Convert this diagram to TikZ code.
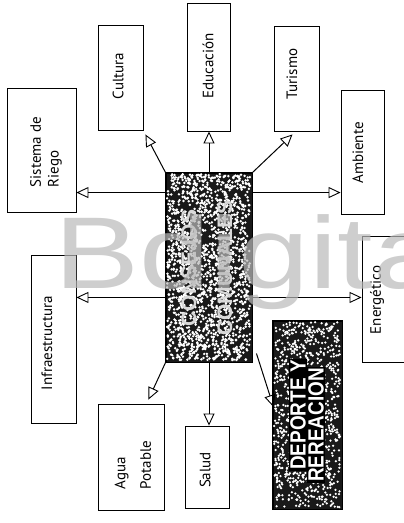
\documentclass[tikz,border=0pt]{standalone}
\usepackage{fontspec}
\usepackage{graphicx}
\setmainfont{PT Sans}
\setsansfont{Liberation Sans}
\newfontfamily\wmfont{Liberation Sans}
\usetikzlibrary{arrows.meta,calc}
\definecolor{wmgray}{RGB}{185,185,185}
\begin{document}
\begin{tikzpicture}[x=1pt,y=-1pt,
  box/.style={draw=black, line width=0.9pt, inner sep=0pt},
  darkbox/.style={draw=black, line width=0.9pt, fill=black!90, inner sep=0pt},
  lbl/.style={rotate=90, inner sep=0pt, font=\fontsize{15}{17.5}\selectfont, align=left},
  arr/.style={line width=1pt, -{Triangle[open,length=12pt,width=11pt,line width=0.9pt]}},
  big/.style={rotate=90, inner sep=0pt, text=white, font=\sffamily\bfseries\fontsize{22}{22}\selectfont}]
\useasboundingbox (0,0) rectangle (404,523);

% boxes
\node[box, minimum width=69, minimum height=124] (riego)   at (41.5,150) {};
\node[box, minimum width=45, minimum height=105] (cultura) at (120.5,77.5) {};
\node[box, minimum width=43, minimum height=128] (educ)    at (208.5,67) {};
\node[box, minimum width=45, minimum height=105] (turismo) at (296.5,78.5) {};
\node[box, minimum width=43, minimum height=124] (ambiente) at (362.5,152) {};
\node[box, minimum width=60, minimum height=126] (energ)   at (392,299) {};
\node[box, minimum width=45, minimum height=168] (infra)   at (53.5,339) {};
\node[box, minimum width=66, minimum height=106] (agua)    at (131,457) {};
\node[box, minimum width=44, minimum height=82]  (salud)   at (207,467) {};

% dark boxes
\node[darkbox, minimum width=86, minimum height=189] (consejo) at (209,267.5) {};
\node[darkbox, minimum width=69, minimum height=188] (deporte) at (307.5,415) {};
\pgfmathsetseed{7}
\foreach \i in {1,...,1700}{
  \fill[white] ($(consejo.north west)+({1.5+rnd*83},{1.5+rnd*186})$) circle[radius=1.35];
}
\foreach \i in {1,...,900}{
  \fill[white] ($(deporte.north west)+({1.5+rnd*66},{1.5+rnd*185})$) circle[radius=1.25];
}
\draw[line width=0.9pt] (consejo.north west) rectangle (consejo.south east);
\draw[line width=0.9pt] (deporte.north west) rectangle (deporte.south east);

% labels
\node[lbl] (riegoT)   at (46,152)  {Sistema de\\Riego};
\node[lbl] (culturaT) at (118,76)  {Cultura};
\node[lbl] (educT)    at (208,66)  {Educación};
\node[lbl] (turismoT) at (292,74)  {Turismo};
\node[lbl] (ambT)     at (358,153) {Ambiente};
\node[lbl] (energT)   at (377,300) {Energético};
\node[lbl] (infraT)   at (47,343)  {Infraestructura};
\node[lbl] (aguaT)    at (133,465) {Agua\\[8pt]Potable};
\node[lbl] (saludT)   at (205,470) {Salud};

\node[big, font=\sffamily\bfseries\fontsize{21}{21}\selectfont, text=white!85!black] (cons1) at (189,268) {CONSEJOS};
\node[big, font=\sffamily\bfseries\fontsize{21}{21}\selectfont, text=white!85!black] (cons2) at (225,268) {COMUNALES};
\node[big, fill=black, inner sep=1.5pt] (dep1) at (298,415) {\scalebox{0.86}[1]{DEPORTE Y}};
\node[big, fill=black, inner sep=1.5pt] (dep2) at (316,425) {\scalebox{0.86}[1]{REREACION}};

% connectors
\coordinate (up) at ($(consejo.north west)+(0,20)$);
\coordinate (upr) at ($(consejo.north east)+(0,20)$);
\coordinate (lo) at ($(consejo.south west)+(0,-65)$);
\coordinate (lor) at ($(consejo.south east)+(0,-65)$);
\draw[arr] (up) -- (up -| riego.east);
\draw[arr] (upr) -- (upr -| ambiente.west);
\draw[arr] (lo) -- (lo -| infra.east);
\draw[arr] (lor) -- (lor -| energ.west);
\draw[arr] (consejo.north west) -- ($(cultura.south east)+(2,4)$);
\draw[arr] (consejo.north) -- (consejo.north |- educ.south);
\draw[arr] (consejo.north east) -- ($(turismo.south)+(-4,3)$);
\draw[arr] (consejo.south west) -- ($(agua.north east)+(-16,-4)$);
\draw[arr] (consejo.south) -- (consejo.south |- salud.north);
\draw[arr] ($(consejo.south east)+(4,-9)$) -- ($(deporte.west)+(1,-8)$);

% watermark
\node[anchor=base west, inner sep=0pt, font=\wmfont\fontsize{102}{102}\selectfont,
      text=wmgray, opacity=0.7, xscale=1.25] (wm) at (54,288) {Bdigita};
\end{tikzpicture}
\end{document}
